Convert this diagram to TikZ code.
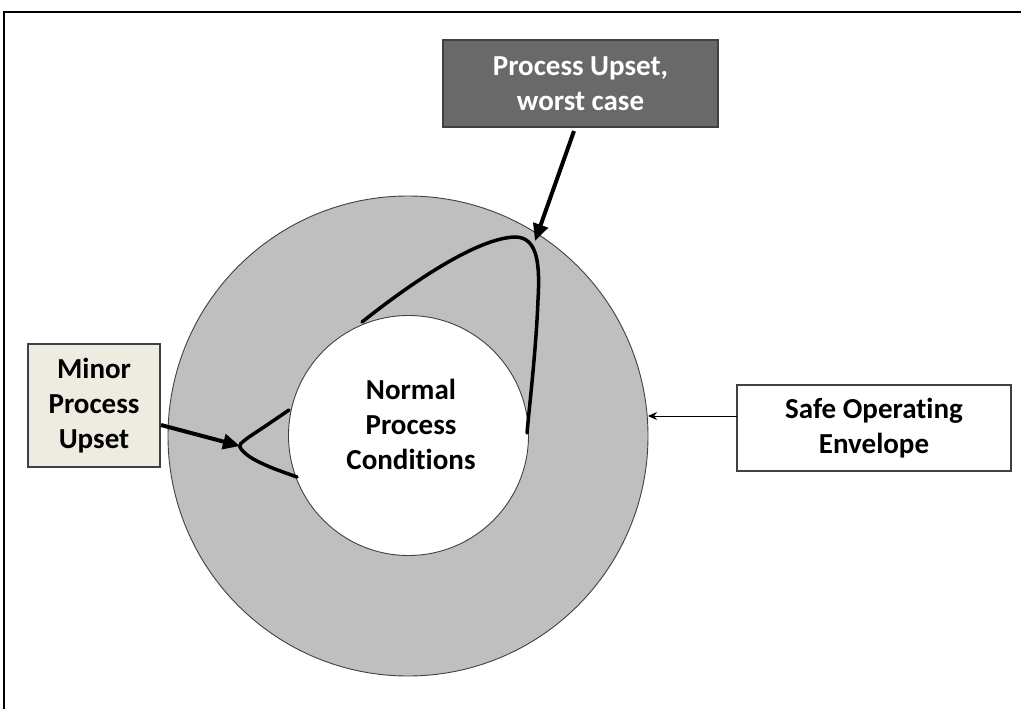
\documentclass[tikz,border=0pt]{standalone}
\usepackage{fontspec}
\setmainfont[Ligatures=NoCommon]{Carlito}
\usetikzlibrary{arrows.meta}
\definecolor{ringgray}{RGB}{191,191,191}
\definecolor{darkbox}{RGB}{105,105,105}
\definecolor{tanbox}{RGB}{238,236,225}
\definecolor{edgegray}{RGB}{64,64,64}
\begin{document}
\begin{tikzpicture}[x=1pt,y=-1pt,
  lbl/.style={font=\fontsize{29}{35}\selectfont\bfseries, align=center},
  boxnode/.style={draw=edgegray, line width=1.5pt, inner sep=0pt, lbl},
  ring/.style={circle, draw=edgegray, line width=0.9pt, inner sep=0pt},
  curve/.style={line width=3.5pt, line cap=round},
  bigarrow/.style={line width=4pt, -{Triangle[length=17pt,width=15pt]}},
  thinarrow/.style={line width=1pt, -{Stealth[length=9pt,width=8pt]}}
]
\useasboundingbox (0,0) rectangle (1021,709);
\draw[line width=2pt] (1021,12) -- (4,12) -- (4,709);

\node[ring, fill=ringgray, minimum size=480pt] (outer) at (408,436) {};
\node[ring, fill=white, minimum size=240pt] (inner) at (408.5,435.5) {};
\node[lbl] (normal) at (411,424) {Normal\\Process\\Conditions};

\draw[curve] (362,322) .. controls (420,276) and (480,238) .. (515,237)
  .. controls (538,237) and (540,265) .. (538,300)
  .. controls (536,350) and (530,400) .. (527,433);
\draw[curve] plot[smooth, tension=0.55] coordinates {(289,410) (267,425) (245,440) (240,447) (250,457) (270,467) (297,477)};

\node[boxnode, fill=darkbox, text=white, minimum width=275pt, minimum height=87pt] (worst) at (580.5,83.5) {Process Upset,\\worst case};
\node[boxnode, fill=tanbox, minimum width=132pt, minimum height=123pt] (minor) at (94,405.5) {Minor\\Process\\Upset};
\node[boxnode, fill=white, minimum width=274pt, minimum height=86pt] (safe) at (874,428) {Safe Operating\\Envelope};

\coordinate (wstart) at (574,131);
\coordinate (wtip) at (535,241);
\coordinate (mstart) at (161,425);
\coordinate (mtip) at (240,446);
\coordinate (sstart) at (737,416);
\coordinate (stip) at (648,416);

\draw[bigarrow] (wstart) -- (wtip);
\draw[bigarrow] (mstart) -- (mtip);
\draw[thinarrow] (sstart) -- (stip);
\end{tikzpicture}
\end{document}
